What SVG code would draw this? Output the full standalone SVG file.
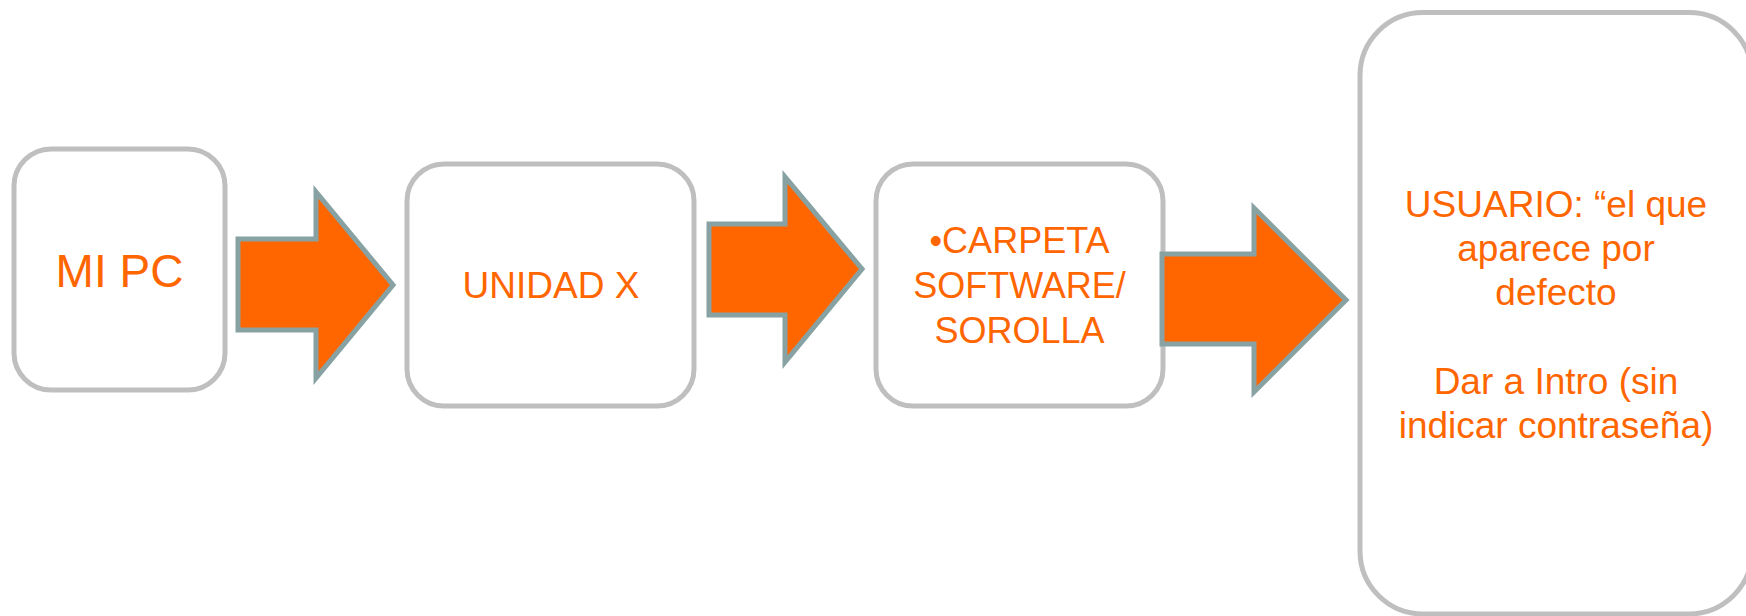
<svg xmlns="http://www.w3.org/2000/svg" width="1746" height="616" viewBox="0 0 1746 616">
<style>
.box{fill:#FFFFFF;stroke:#BFBFBF;stroke-width:5}
.arrow{fill:#FF6600;stroke:#88A2A3;stroke-width:5;stroke-linejoin:miter}
.t{font-family:"Liberation Sans",Arial,sans-serif;fill:#FF6600;text-anchor:middle}
</style>
<rect width="1746" height="616" fill="#FFFFFF"/>
<g id="node-mipc">
<rect class="box" x="14" y="149" width="211" height="241" rx="37" ry="37"/>
<text class="t" x="119.5" y="287" font-size="46">MI PC</text>
</g>
<g id="node-unidad">
<rect class="box" x="407" y="164" width="287" height="242" rx="37" ry="37"/>
<text class="t" x="551" y="298" font-size="37">UNIDAD X</text>
</g>
<g id="node-carpeta">
<rect class="box" x="876" y="164" width="287" height="242" rx="37" ry="37"/>
<text class="t" font-size="36"><tspan x="1019.5" y="253">•CARPETA</tspan><tspan x="1019.5" y="298">SOFTWARE/</tspan><tspan x="1019.5" y="343">SOROLLA</tspan></text>
</g>
<g id="node-usuario">
<rect class="box" x="1360" y="12.5" width="392" height="601.5" rx="63" ry="63"/>
<text class="t" font-size="37"><tspan x="1556" y="216.5">USUARIO: “el que</tspan><tspan x="1556" y="260.8">aparece por</tspan><tspan x="1556" y="305.1">defecto</tspan><tspan x="1556" y="393.7">Dar a Intro (sin</tspan><tspan x="1556" y="438">indicar contraseña)</tspan></text>
</g>
<g id="connectors">
<polygon class="arrow" points="238,239 316,239 316,192 393,285 316,378 316,330 238,330"/>
<polygon class="arrow" points="709,224 785,224 785,177 862,269 785,362 785,315 709,315"/>
<polygon class="arrow" points="1162,254 1254,254 1254,208 1346,300 1254,392 1254,344 1162,344"/>
</g>
</svg>
